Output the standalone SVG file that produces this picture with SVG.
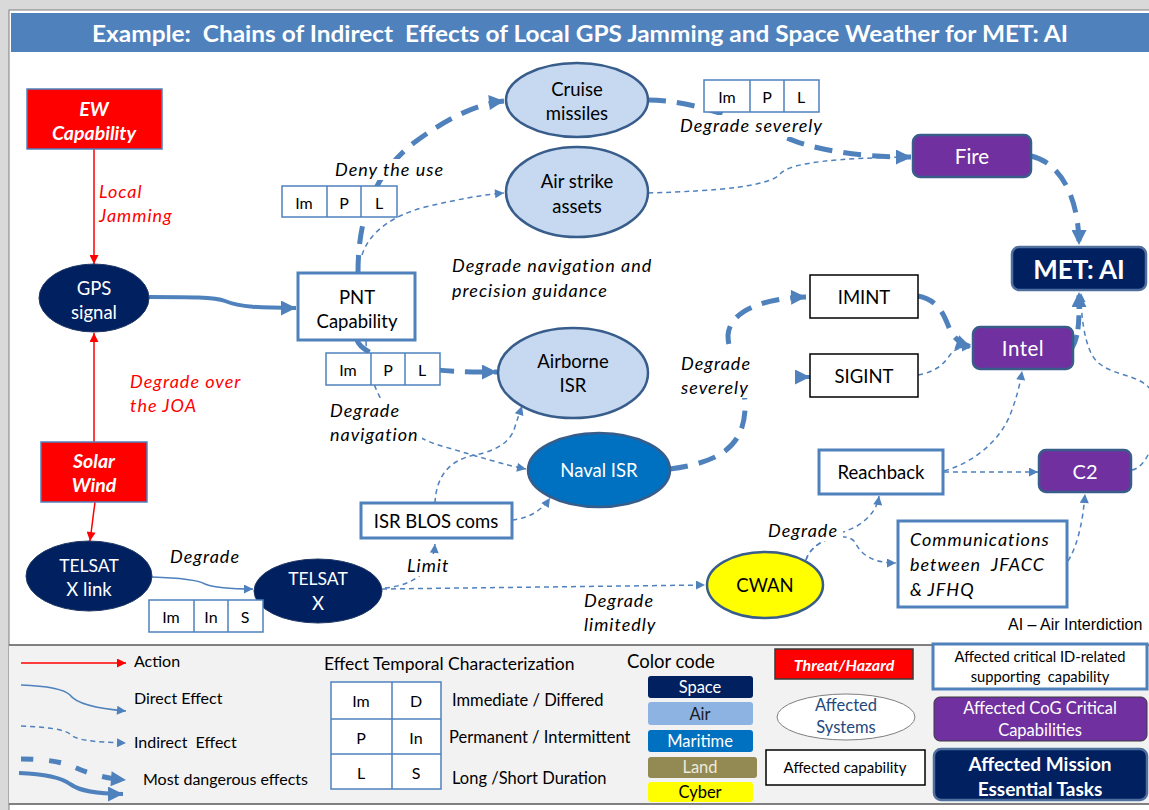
<svg xmlns="http://www.w3.org/2000/svg" width="1149" height="810" viewBox="0 0 1149 810">
<style>
text{font-family:Lato,"Liberation Sans",sans-serif;dominant-baseline:central}
.c{text-anchor:middle}
.i{font-style:italic}
.b{font-weight:bold}
.w{fill:#fff}
.r{fill:#ff0000}
.n{font-size:18.5px}
.lab{font-size:18px;font-style:italic;letter-spacing:1px}
.f15{font-size:16px}
.f16{font-size:16px}
.air{fill:#c6d9f1;stroke:#385d8a;stroke-width:2.5}
.space{fill:#002060;stroke:#1f3864;stroke-width:1}
.mar{fill:#0070c0;stroke:#385d8a;stroke-width:2.5}
.cyb{fill:#ffff00;stroke:#385d8a;stroke-width:2.5}
.pur{fill:#7030a0;stroke:#385d8a;stroke-width:2.5}
.met{fill:#002060;stroke:#4f6f9f;stroke-width:2.5}
.cap{fill:#fff;stroke:#4f81bd;stroke-width:3}
.capk{fill:#fff;stroke:#000;stroke-width:1.5}
.thr{fill:#ff0000;stroke:#4f81bd;stroke-width:1.5}
.tb{fill:#fff;stroke:#4f81bd;stroke-width:1.5}
.bg{fill:#fff}
.thin{fill:none;stroke:#4f81bd;stroke-width:1.5}
.dsh{stroke-dasharray:5 4}
.thk{fill:none;stroke:#4f81bd;stroke-width:5;stroke-dasharray:18 11}
.thks{fill:none;stroke:#4f81bd;stroke-width:4}
.red{fill:none;stroke:#ff0000;stroke-width:1.5}
</style>
<defs>
<marker id="aT" viewBox="0 0 10 10" refX="10" refY="5" markerWidth="11" markerHeight="9" markerUnits="userSpaceOnUse" orient="auto"><path d="M0,0L10,5L0,10z" fill="#4f81bd"/></marker>
<marker id="aK" viewBox="0 0 10 10" refX="10" refY="5" markerWidth="16" markerHeight="15" markerUnits="userSpaceOnUse" orient="auto"><path d="M0,0L10,5L0,10z" fill="#4f81bd"/></marker>
<marker id="aR" viewBox="0 0 10 10" refX="10" refY="5" markerWidth="11" markerHeight="9" markerUnits="userSpaceOnUse" orient="auto"><path d="M0,0L10,5L0,10z" fill="#ff0000"/></marker>
</defs>
<rect x="0" y="0" width="1149" height="810" fill="#d9d9d9"/>
<rect x="9" y="10" width="1145" height="805" fill="#fff" stroke="#7f7f7f" stroke-width="1"/>
<rect x="11" y="13" width="1140" height="39" fill="#4f81bd"/>
<text x="92" y="33" class="w b" font-size="22" textLength="976" lengthAdjust="spacingAndGlyphs" xml:space="preserve">Example:  Chains of Indirect  Effects of Local GPS Jamming and Space Weather for MET: AI</text>

<g id="connectors">
<path class="red" d="M94,149L94,264" marker-end="url(#aR)"/>
<path class="red" d="M94,442L94,333" marker-end="url(#aR)"/>
<path class="red" d="M95,502L90,541" marker-end="url(#aR)"/>
<path class="thks" d="M149,297C190,297 215,297 225,301C240,307 260,308 296,308" marker-end="url(#aK)"/>
<path class="thk" d="M358,273C358,220 372,175 415,142C445,120 475,104 504,101" marker-end="url(#aK)"/>
<path class="thin dsh" d="M362,255C370,230 395,215 425,207C455,200 480,195 504,193" marker-end="url(#aT)"/>
<path class="thk" d="M648,100C700,100 760,128 800,143C840,155 880,157 911,157" marker-end="url(#aK)"/>
<path class="thin dsh" d="M648,193C720,191 770,186 780,174C790,162 840,158 911,157" marker-end="url(#aT)"/>
<path class="thk" d="M1031,156C1062,163 1079,200 1079,245" marker-end="url(#aK)"/>
<path class="thk" d="M357,340C360,350 380,360 420,368C450,372 470,372 497,372" marker-end="url(#aK)"/>
<path class="thin dsh" d="M366,341C368,400 400,435 445,447C480,457 505,465 526,469" marker-end="url(#aT)"/>
<path class="thk" d="M670,469C722,462 743,445 745,410C747,380 728,360 728,335C730,310 765,298 806,297" marker-end="url(#aK)"/>
<path class="thks" d="M802,377L810,377" marker-end="url(#aK)"/>
<path class="thk" d="M918,296C940,300 945,318 950,330C955,340 962,344 971,347" marker-end="url(#aK)"/>
<path class="thin dsh" d="M918,375C935,372 943,365 950,355C955,348 962,347 971,347" marker-end="url(#aT)"/>
<path class="thk" d="M1072,348C1080,335 1079,315 1079,292" style="stroke-dasharray:14 6" marker-end="url(#aK)"/>
<path class="thin dsh" d="M1132,470C1152,466 1162,420 1152,392C1142,372 1105,378 1092,355C1084,340 1081,315 1081,293" marker-end="url(#aT)"/>
<path class="thin dsh" d="M944,471C975,462 1000,440 1010,415C1016,400 1020,385 1022,371" marker-end="url(#aT)"/>
<path class="thin dsh" d="M944,472L1038,472" marker-end="url(#aT)"/>
<path class="thin dsh" d="M1068,561C1078,545 1083,520 1085,494" marker-end="url(#aT)"/>
<path class="thin dsh" d="M806,560C812,540 840,535 857,526C868,519 877,510 879,496" marker-end="url(#aT)"/>
<path class="thin dsh" d="M806,560C812,540 845,530 855,542C862,558 878,563 896,563" marker-end="url(#aT)"/>
<path class="thin" d="M152,577C185,578 198,580 205,584C215,588 235,589 253,589" marker-end="url(#aT)"/>
<path class="thin dsh" d="M382,589L705,585" marker-end="url(#aT)"/>
<path class="thin dsh" d="M385,588C405,586 432,578 435,544" marker-end="url(#aT)"/>
<path class="thin dsh" d="M435,503C436,478 448,460 475,455C500,450 510,440 514,430C517,420 520,412 522,406" marker-end="url(#aT)"/>
<path class="thin dsh" d="M512,520C530,518 542,510 550,498" marker-end="url(#aT)"/>
</g>

<g id="ew"><rect x="27" y="89" width="135" height="60" class="thr"/><text x="94" y="108" class="c w b i" font-size="19.5">EW</text><text x="94" y="132" class="c w b i" font-size="19.5">Capability</text></g>
<g id="gps"><ellipse cx="94" cy="298" rx="55" ry="34" class="space"/><text x="94" y="288" class="c w n">GPS</text><text x="94" y="312" class="c w n">signal</text></g>
<g id="solar"><rect x="41" y="442" width="106" height="60" class="thr"/><text x="94" y="460" class="c w b i" font-size="19.5">Solar</text><text x="94" y="484" class="c w b i" font-size="19.5">Wind</text></g>
<g id="telsatlink"><ellipse cx="89" cy="576" rx="63" ry="35" class="space"/><text x="89" y="565" class="c w" font-size="17.5">TELSAT</text><text x="89" y="589" class="c w n">X link</text></g>
<g id="telsatx"><ellipse cx="318" cy="591" rx="64" ry="32" class="space"/><text x="318" y="578" class="c w" font-size="17.5">TELSAT</text><text x="318" y="603" class="c w n">X</text></g>
<g id="pnt"><rect x="298" y="273" width="117" height="67" class="cap"/><text x="357" y="297" class="c n">PNT</text><text x="357" y="321" class="c n">Capability</text></g>
<g id="cruise"><ellipse cx="577" cy="100" rx="71" ry="37" class="air"/><text x="577" y="89" class="c n">Cruise</text><text x="577" y="113" class="c n">missiles</text></g>
<g id="airstrike"><ellipse cx="577" cy="192" rx="71" ry="45" class="air"/><text x="577" y="181" class="c n">Air strike</text><text x="577" y="206" class="c n">assets</text></g>
<g id="airborne"><ellipse cx="573" cy="373" rx="75" ry="45" class="air"/><text x="573" y="361" class="c n">Airborne</text><text x="573" y="385" class="c n">ISR</text></g>
<g id="naval"><ellipse cx="599" cy="470" rx="71" ry="37" class="mar"/><text x="599" y="470" class="c w n">Naval ISR</text></g>
<g id="isrblos"><rect x="361" y="503" width="151" height="35" class="cap"/><text x="436" y="521" class="c n">ISR BLOS coms</text></g>
<g id="cwan"><ellipse cx="765" cy="585" rx="58" ry="33" class="cyb"/><text x="765" y="585" class="c n">CWAN</text></g>
<g id="imint"><rect x="810" y="275" width="108" height="43" class="capk"/><text x="864" y="297" class="c n">IMINT</text></g>
<g id="sigint"><rect x="810" y="354" width="108" height="43" class="capk"/><text x="864" y="376" class="c n">SIGINT</text></g>
<g id="reachback"><rect x="819" y="450" width="124" height="44" class="cap"/><text x="881" y="472" class="c n">Reachback</text></g>
<g id="comms"><rect x="898" y="521" width="169" height="86" class="cap"/><text x="910" y="539" class="lab">Communications</text><text x="910" y="564" class="lab" xml:space="preserve">between  JFACC</text><text x="910" y="589" class="lab">&amp; JFHQ</text></g>
<g id="fire"><rect x="913" y="135" width="118" height="42" rx="7" class="pur"/><text x="972" y="156" class="c w" font-size="20.5">Fire</text></g>
<g id="intel"><rect x="973" y="327" width="100" height="42" rx="7" class="pur"/><text x="1023" y="348" class="c w" font-size="20.5" letter-spacing="0.5">Intel</text></g>
<g id="c2"><rect x="1039" y="450" width="92" height="42" rx="7" class="pur"/><text x="1085" y="471" class="c w" font-size="20">C2</text></g>
<g id="met"><rect x="1012" y="247" width="134" height="43" rx="7" class="met"/><text x="1079" y="269" class="c w b" font-size="26">MET: AI</text></g>

<g id="tbox1"><rect x="282" y="186" width="115" height="31" class="tb"/><path d="M327,186V217M361,186V217" class="thin"/><text x="304" y="202" class="c f15">Im</text><text x="344" y="202" class="c f15">P</text><text x="379" y="202" class="c f15">L</text></g>
<g id="tbox2"><rect x="704" y="80" width="115" height="32" class="tb"/><path d="M750,80V112M784,80V112" class="thin"/><text x="727" y="96" class="c f15">Im</text><text x="767" y="96" class="c f15">P</text><text x="801" y="96" class="c f15">L</text></g>
<g id="tbox3"><rect x="326" y="353" width="114" height="32" class="tb"/><path d="M371,353V385M405,353V385" class="thin"/><text x="348" y="369" class="c f15">Im</text><text x="388" y="369" class="c f15">P</text><text x="422" y="369" class="c f15">L</text></g>
<g id="tbox4"><rect x="149" y="600" width="114" height="32" class="tb"/><path d="M194,600V632M228,600V632" class="thin"/><text x="171" y="616" class="c f15">Im</text><text x="211" y="616" class="c f15">In</text><text x="245" y="616" class="c f15">S</text></g>

<g id="labels">
<text x="99" y="191" class="r lab">Local</text><text x="99" y="215" class="r lab">Jamming</text>
<text x="130" y="381" class="r lab">Degrade over</text><text x="130" y="405" class="r lab">the JOA</text>
<rect x="332" y="159" width="110" height="21" class="bg"/><text x="335" y="169" class="lab">Deny the use</text>
<text x="452" y="265" class="lab">Degrade navigation and</text><text x="452" y="290" class="lab">precision guidance</text>
<rect x="676" y="115" width="150" height="22" class="bg"/><text x="680" y="125" class="lab">Degrade severely</text>
<rect x="677" y="350" width="76" height="48" class="bg"/><text x="681" y="363" class="lab">Degrade</text><text x="681" y="387" class="lab">severely</text>
<rect x="326" y="398" width="96" height="48" class="bg"/><text x="330" y="410" class="lab">Degrade</text><text x="330" y="434" class="lab">navigation</text>
<text x="170" y="556" class="lab">Degrade</text>
<rect x="404" y="554" width="46" height="22" class="bg"/><text x="407" y="565" class="lab">Limit</text>
<text x="584" y="600" class="lab">Degrade</text><text x="584" y="624" class="lab">limitedly</text>
<rect x="765" y="519" width="78" height="22" class="bg"/><text x="768" y="530" class="lab">Degrade</text>
<text x="1008" y="624" style="font-family:'Liberation Sans',Arial,sans-serif;font-size:16px">AI – Air Interdiction</text>
</g>

<g id="legend">
<rect x="9" y="645" width="1145" height="159" fill="#f2f2f2"/>
<path d="M9,645H1149M9,804H1149" stroke="#595959" stroke-width="1.5"/>
<path class="red" d="M21,663L126,663" marker-end="url(#aR)"/>
<text x="134" y="660" class="f16">Action</text>
<path class="thin" d="M21,685C50,686 65,690 70,695C75,702 90,708 126,711" marker-end="url(#aT)"/>
<text x="134" y="697" class="f16">Direct Effect</text>
<path class="thin dsh" d="M21,726C50,727 65,730 70,734C76,740 90,742 126,743" marker-end="url(#aT)"/>
<text x="134" y="741" class="f16" xml:space="preserve">Indirect  Effect</text>
<path class="thk" d="M21,759C45,759 62,762 72,766C85,772 100,778 126,780" style="stroke-dasharray:12 16" marker-end="url(#aK)"/>
<path class="thks" d="M19,773C45,774 62,778 70,784C80,791 95,794 123,794" marker-end="url(#aK)"/>
<text x="143" y="778" class="f16">Most dangerous effects</text>

<text x="324" y="663" font-size="17.5">Effect Temporal Characterization</text>
<rect x="331" y="682" width="110" height="107" class="tb"/>
<path d="M392,682V789M331,719H441M331,754H441" class="thin"/>
<text x="361" y="700" class="c f16">Im</text><text x="416" y="700" class="c f16">D</text>
<text x="361" y="737" class="c f16">P</text><text x="416" y="737" class="c f16">In</text>
<text x="361" y="772" class="c f16">L</text><text x="416" y="772" class="c f16">S</text>
<text x="452" y="700" font-size="16.5">Immediate / Differed</text>
<text x="449" y="737" font-size="16.5">Permanent / Intermittent</text>
<text x="452" y="778" font-size="16.5">Long /Short Duration</text>

<text x="627" y="661" font-size="18.5">Color code</text>
<rect x="648" y="676" width="105" height="22" rx="3" fill="#002060"/><text x="700" y="687" class="c w" font-size="16.5">Space</text>
<rect x="648" y="702" width="105" height="23" rx="3" fill="#8db3e2"/><text x="700" y="714" class="c" font-size="16.5" fill="#1a1a1a">Air</text>
<rect x="648" y="730" width="105" height="22" rx="3" fill="#0070c0"/><text x="700" y="741" class="c w" font-size="16.5">Maritime</text>
<rect x="648" y="757" width="109" height="21" rx="3" fill="#938953"/><text x="700" y="767" class="c" font-size="16.5" fill="#ece9df">Land</text>
<rect x="648" y="782" width="105" height="20" rx="3" fill="#ffff00"/><text x="700" y="792" class="c" font-size="16.5">Cyber</text>

<rect x="775" y="649" width="138" height="30" fill="#ff0000" stroke="#3a3a3a" stroke-width="1.5"/><text x="844" y="664" class="c w b i" font-size="16">Threat/Hazard</text>
<ellipse cx="846" cy="717" rx="69" ry="23" fill="#fff" stroke="#7f7f7f" stroke-width="1"/><text x="846" y="705" class="c" font-size="16.5" fill="#1f497d">Affected</text><text x="846" y="727" class="c" font-size="16.5" fill="#1f497d">Systems</text>
<rect x="766" y="750" width="159" height="35" fill="#fff" stroke="#000" stroke-width="1.5"/><text x="845" y="767" class="c" font-size="15">Affected capability</text>
<rect x="933" y="644" width="214" height="45" class="cap"/><text x="1040" y="656" class="c" font-size="14.7">Affected critical ID-related</text><text x="1040" y="676" class="c" font-size="14.7" xml:space="preserve">supporting  capability</text>
<rect x="934" y="697" width="213" height="44" rx="6" fill="#7030a0" stroke="#3a3a3a" stroke-width="1"/><text x="1040" y="708" class="c w" font-size="16.5">Affected CoG Critical</text><text x="1040" y="730" class="c w" font-size="16.5">Capabilities</text>
<rect x="934" y="749" width="213" height="51" rx="7" class="met"/><text x="1040" y="763" class="c w b" font-size="19">Affected Mission</text><text x="1040" y="788" class="c w b" font-size="19">Essential Tasks</text>
</g>
</svg>
